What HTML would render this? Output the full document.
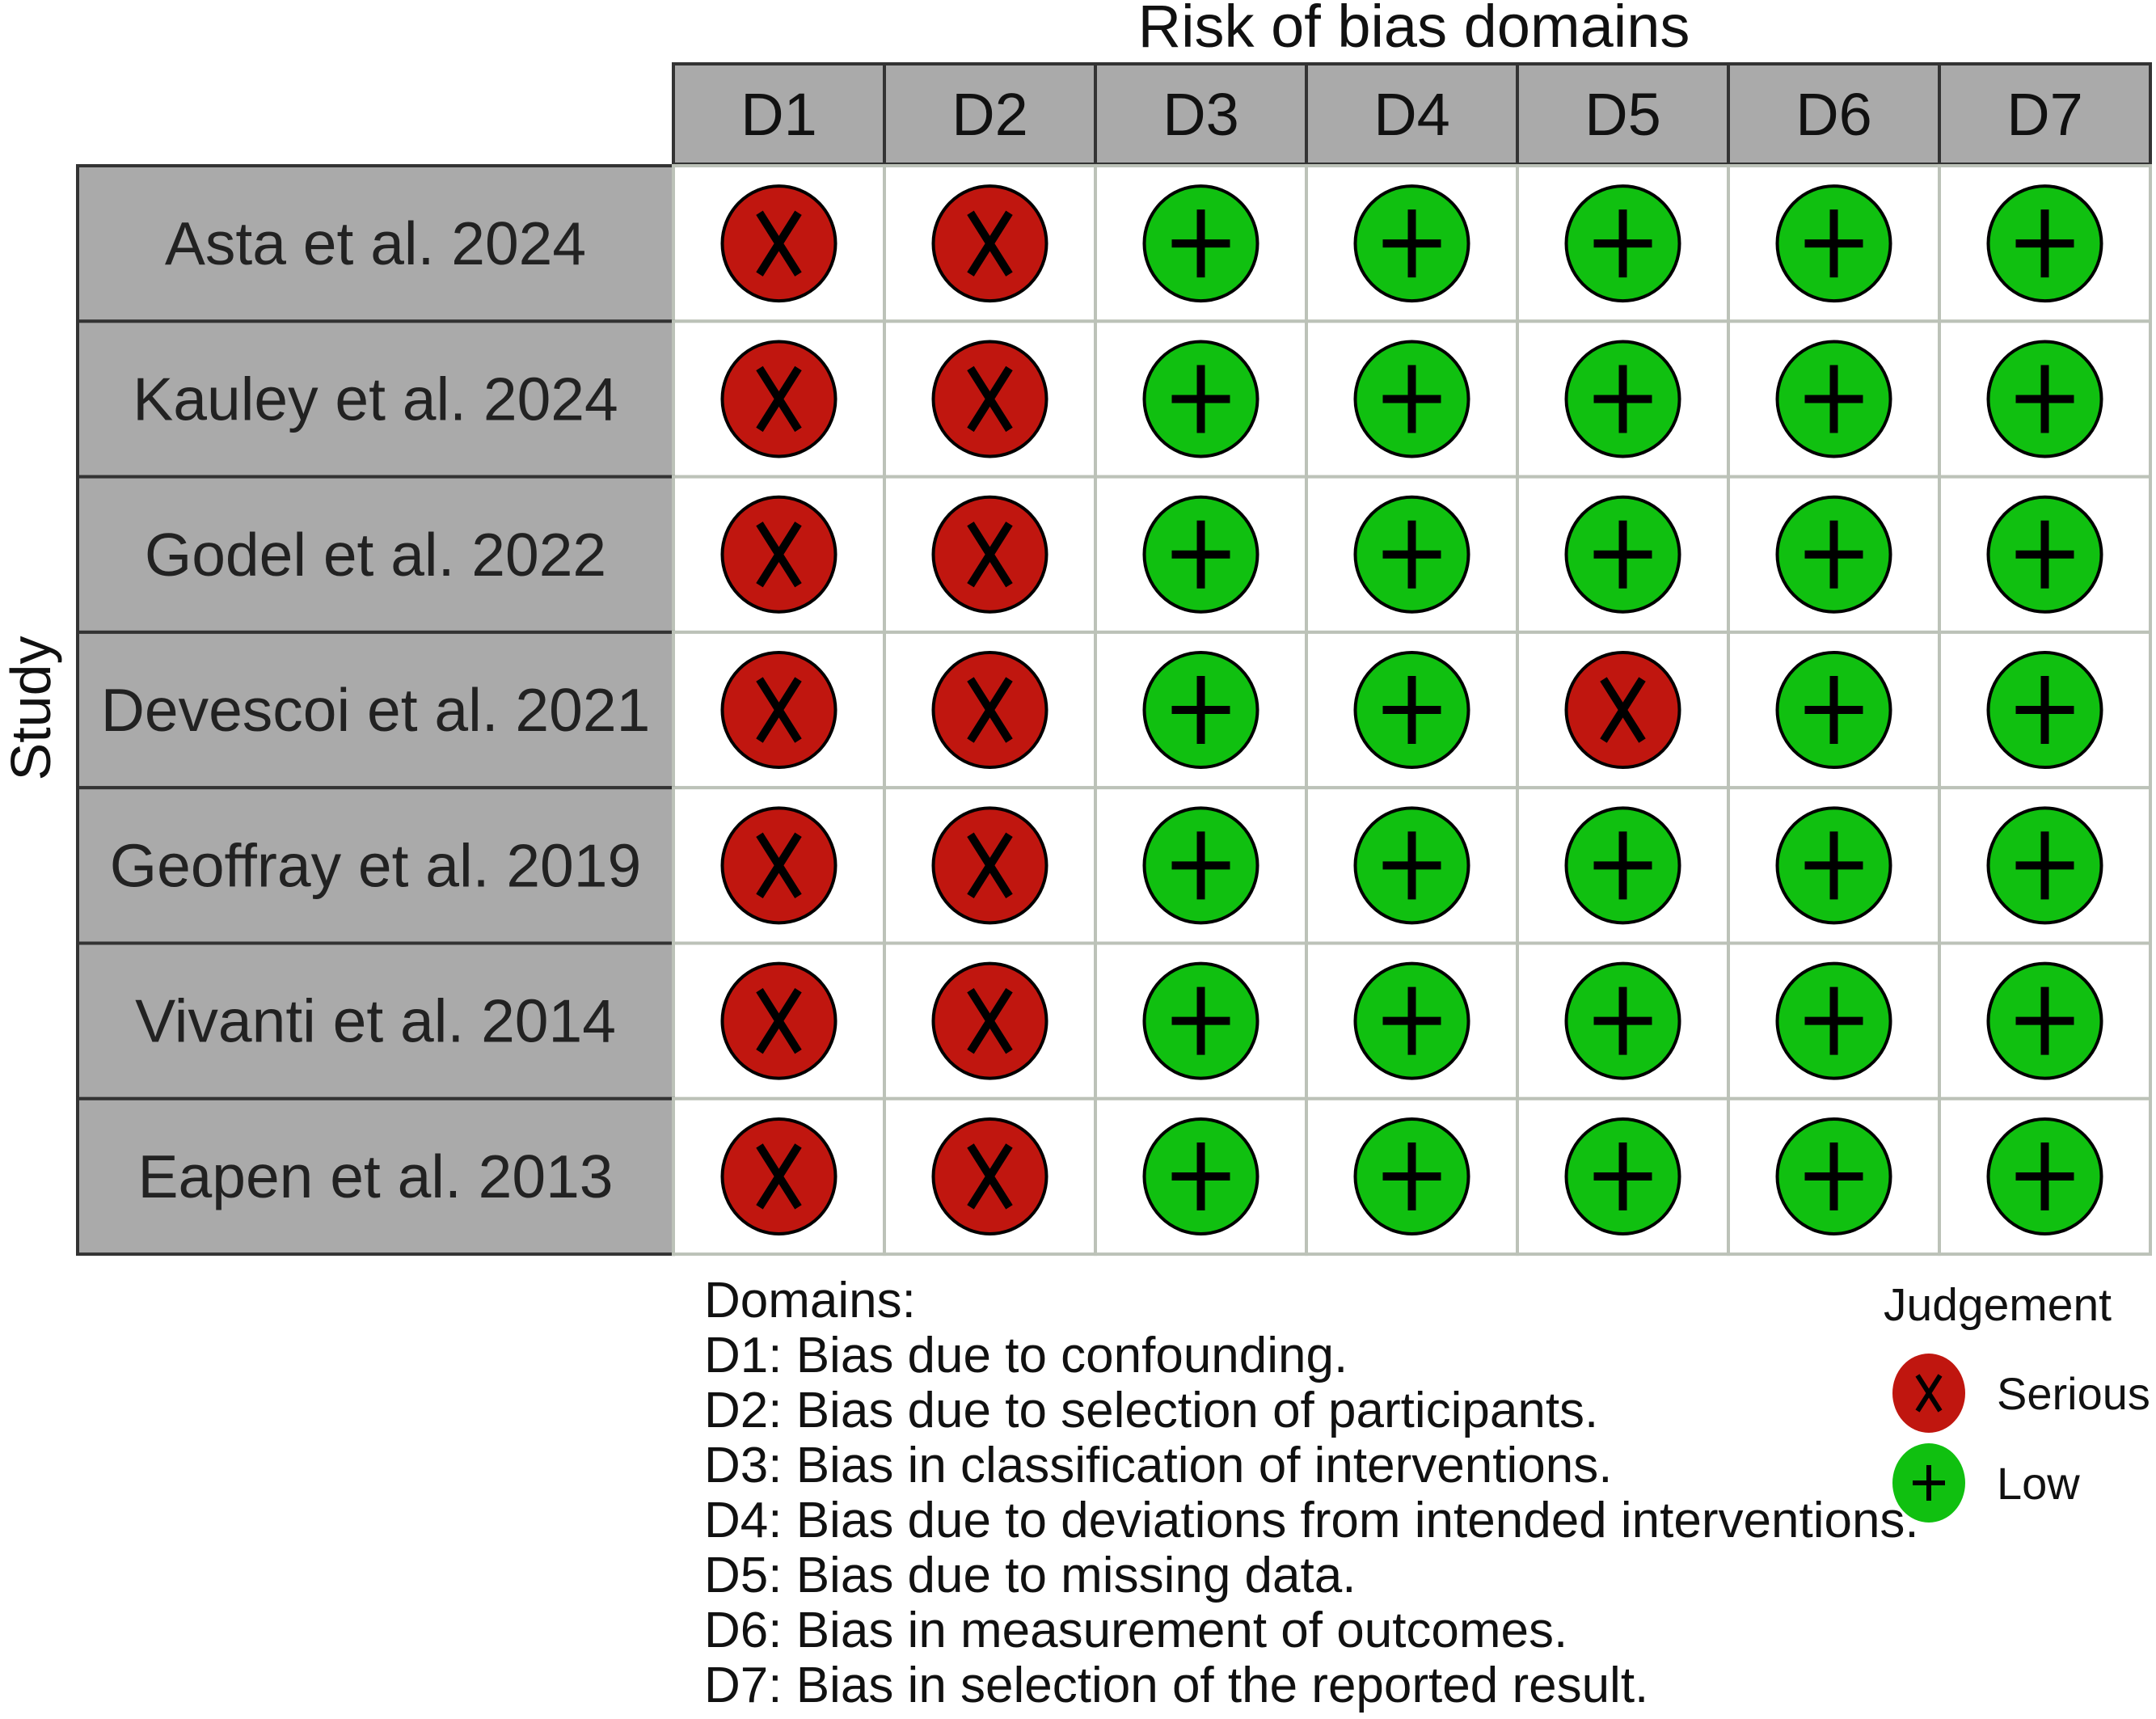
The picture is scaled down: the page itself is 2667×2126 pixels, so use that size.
<!DOCTYPE html>
<html><head><meta charset="utf-8"><style>
html,body{margin:0;padding:0;background:#fff;}
svg{display:block;font-family:"Liberation Sans",Arial,sans-serif;}
</style></head><body>
<svg id="chart" width="2667" height="2126" viewBox="0 0 2667 2126" xmlns="http://www.w3.org/2000/svg"></svg>
<script>
const studies = ["Asta et al. 2024","Kauley et al. 2024","Godel et al. 2022","Devescoi et al. 2021","Geoffray et al. 2019","Vivanti et al. 2014","Eapen et al. 2013"];
const domains = ["D1","D2","D3","D4","D5","D6","D7"];
// judgement per study row (S = serious, L = low)
const judgements = [
 ["S","S","L","L","L","L","L"],
 ["S","S","L","L","L","L","L"],
 ["S","S","L","L","L","L","L"],
 ["S","S","L","L","S","L","L"],
 ["S","S","L","L","L","L","L"],
 ["S","S","L","L","L","L","L"],
 ["S","S","L","L","L","L","L"]
];
const domainNotes = ["Domains:","D1: Bias due to confounding.","D2: Bias due to selection of participants.","D3: Bias in classification of interventions.","D4: Bias due to deviations from intended interventions.","D5: Bias due to missing data.","D6: Bias in measurement of outcomes.","D7: Bias in selection of the reported result."];

const NS="http://www.w3.org/2000/svg";
const svg=document.getElementById('chart');
function mk(tag,attrs,parent){const e=document.createElementNS(NS,tag);for(const k in attrs)e.setAttribute(k,attrs[k]);(parent||svg).appendChild(e);return e;}
const gx0=833, colW=261, hy0=79, hy1=203, ry0=205, rowH=192.3, lx0=96;
const colX=i=>gx0+colW*i;
const rowY=j=>ry0+rowH*j;
const RED="#c0160f", GREEN="#10c010", GRAY="#aaaaaa";

let t=mk('text',{x:1749,y:58,'font-size':74,'text-anchor':'middle',fill:'#111'});


t.textContent="Risk of bias domains";

domains.forEach((d,i)=>{
  const r=mk('rect',{x:colX(i),y:hy0,width:colW,height:hy1-hy0,fill:GRAY,stroke:'#333','stroke-width':4});
  
  
  const tt=mk('text',{x:colX(i)+colW/2,y:167,'font-size':74,'text-anchor':'middle',fill:'#111'});
  
  
  tt.textContent=d;
});

studies.forEach((s,j)=>{
  const r=mk('rect',{x:lx0,y:rowY(j),width:gx0-lx0,height:rowH,fill:GRAY,stroke:'#333','stroke-width':4});
  
  
  const tt=mk('text',{x:(lx0+gx0)/2,y:rowY(j)+rowH/2+26,'font-size':75,'text-anchor':'middle',fill:'#222'});
  
  
  tt.textContent=s;
  domains.forEach((d,i)=>{
    const c=mk('rect',{x:colX(i),y:rowY(j),width:colW,height:rowH,fill:'#fff',stroke:'#bcc2b8','stroke-width':4});
    
    
  });
});
studies.forEach((s,j)=>{
  domains.forEach((d,i)=>{
    const v=judgements[j][i];
    const cx=colX(i)+colW/2, cy=rowY(j)+rowH/2;
    const g=mk('g',{});
    
    
    mk('ellipse',{cx:cx,cy:cy,rx:70,ry:71,fill:v==='S'?RED:GREEN,stroke:'#000','stroke-width':4},g);
    if(v==='S'){
      mk('path',{d:`M${cx-24} ${cy-38}L${cx+24} ${cy+38}M${cx+24} ${cy-38}L${cx-24} ${cy+38}`,stroke:'#000','stroke-width':10,fill:'none'},g);
    } else {
      mk('path',{d:`M${cx-36} ${cy}L${cx+36} ${cy}M${cx} ${cy-42}L${cx} ${cy+42}`,stroke:'#000','stroke-width':10,fill:'none'},g);
    }
  });
});

t=mk('text',{x:0,y:0,'font-size':70,'text-anchor':'middle',fill:'#111',transform:'translate(62,876) rotate(-90)'});


t.textContent="Study";

domainNotes.forEach((n,k)=>{
  const tt=mk('text',{x:871,y:1629+68*k,'font-size':62,fill:'#111'});
  
  
  tt.textContent=n;
});

t=mk('text',{x:2330,y:1633,'font-size':57,fill:'#111'});


t.textContent="Judgement";
const legend=[["Serious",RED,'S',1723],["Low",GREEN,'L',1834]];
legend.forEach(([lab,col,v,cy])=>{
  const g=mk('g',{});
  
  
  const cx=2386;
  mk('ellipse',{cx:cx,cy:cy,rx:45,ry:49,fill:col},g);
  if(v==='S') mk('path',{d:`M${cx-14} ${cy-22}L${cx+14} ${cy+22}M${cx+14} ${cy-22}L${cx-14} ${cy+22}`,stroke:'#000','stroke-width':6},g);
  else mk('path',{d:`M${cx-20} ${cy}L${cx+20} ${cy}M${cx} ${cy-22}L${cx} ${cy+22}`,stroke:'#000','stroke-width':6},g);
  const tt=mk('text',{x:2470,y:cy+20,'font-size':56,fill:'#111'},g);
  tt.textContent=lab;
});
</script>
</body></html>
